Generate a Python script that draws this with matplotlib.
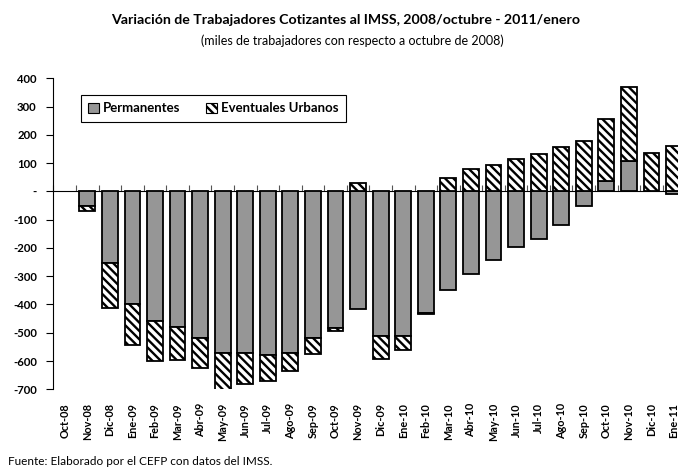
import numpy as np
import matplotlib
matplotlib.use("Agg")
import matplotlib.pyplot as plt
from matplotlib.patches import Patch

plt.rcParams['font.family'] = ['Lato', 'DejaVu Sans']
plt.rcParams['hatch.linewidth'] = 1.7

# data (miles de trabajadores)
meses = ['Oct-08', 'Nov-08', 'Dic-08', 'Ene-09', 'Feb-09', 'Mar-09', 'Abr-09',
         'May-09', 'Jun-09', 'Jul-09', 'Ago-09', 'Sep-09', 'Oct-09', 'Nov-09',
         'Dic-09', 'Ene-10', 'Feb-10', 'Mar-10', 'Abr-10', 'May-10', 'Jun-10',
         'Jul-10', 'Ago-10', 'Sep-10', 'Oct-10', 'Nov-10', 'Dic-10', 'Ene-11']
permanentes = [0, -53, -254, -399, -460, -480, -519, -570, -572, -578, -570,
               -519, -483, -416, -511, -513, -430, -350, -291, -244, -195,
               -167, -118, -50, 35, 106, 2, -8]
eventuales = [0, -15, -159, -143, -139, -115, -106, -132, -108, -91, -67,
              -55, -12, 29, -82, -47, -4, 47, 79, 93, 114, 132, 158, 178,
              222, 262, 134, 159]

yticks = [-700, -600, -500, -400, -300, -200, -100, 0, 100, 200, 300, 400]
ylabels = ['-700', '-600', '-500', '-400', '-300', '-200', '-100', '-',
           '100', '200', '300', '400']

gris = '#969696'
hatch = '\\\\\\\\'

fig = plt.figure(figsize=(6.78, 4.72), dpi=100)
ax = fig.add_axes([0.0788, 0.1752, 0.932, 0.659])

x = np.arange(len(meses))
perm = np.array(permanentes, dtype=float)
even = np.array(eventuales, dtype=float)
# Excel-style stacking: same sign stacks on top, opposite sign starts at zero
base = np.where(np.sign(even) == np.sign(perm), perm, 0)
# zero values draw nothing
perm_plot = np.where(perm == 0, np.nan, perm)
even_plot = np.where(even == 0, np.nan, even)

ax.bar(x, perm_plot, width=0.7, color=gris, edgecolor='black', linewidth=1.3)
ax.bar(x, even_plot, bottom=base, width=0.7, color='white', edgecolor='black',
       linewidth=1.3, hatch=hatch)

ax.set_xlim(-0.5, len(meses) - 0.5)
ax.set_ylim(-700, 400)
ax.set_yticks(yticks)
ax.set_yticklabels(ylabels, fontsize=8.2, fontweight='bold')
ax.tick_params(axis='y', direction='out', length=5, width=0.8, pad=7)

ax.set_xticks(x)
ax.set_xticklabels(meses, rotation=90, fontsize=7.8, fontweight='bold')
ax.tick_params(axis='x', length=0, pad=10)

for s in ['top', 'right', 'bottom']:
    ax.spines[s].set_visible(False)
ax.spines['left'].set_linewidth(0.8)

# zero line with category boundary ticks
zero = ax.secondary_xaxis(700 / 1100)
zero.set_xticks(np.arange(len(meses) + 1) - 0.5)
zero.set_xticklabels([])
zero.tick_params(direction='out', length=4, width=0.8, color='#555555')
zero.spines['bottom'].set_color('#555555')
zero.spines['bottom'].set_linewidth(0.8)

handles = [Patch(facecolor=gris, edgecolor='black', linewidth=0.8),
           Patch(facecolor='white', edgecolor='black', linewidth=0.8, hatch=hatch)]
leg = ax.legend(handles, ['Permanentes', 'Eventuales Urbanos'], ncol=2,
                loc='upper left', bbox_to_anchor=(0.0435, 0.946),
                borderaxespad=0, fancybox=False, framealpha=1,
                edgecolor='black', prop={'weight': 'bold', 'size': 9.5},
                handlelength=0.8, handleheight=0.8, handletextpad=0.3,
                columnspacing=2.0, borderpad=0.55)
leg.get_frame().set_linewidth(0.8)

fig.text(0.51, 0.958, 'Variación de Trabajadores Cotizantes al IMSS, 2008/octubre - 2011/enero',
         ha='center', va='center', fontsize=10.2, fontweight='bold')
fig.text(0.52, 0.914, '(miles de trabajadores con respecto a octubre de 2008)',
         ha='center', va='center', fontsize=9)
fig.text(0.012, 0.022, 'Fuente: Elaborado por el CEFP con datos del IMSS.',
         ha='left', va='center', fontsize=8.5)

fig.savefig('out.png', dpi=100)
